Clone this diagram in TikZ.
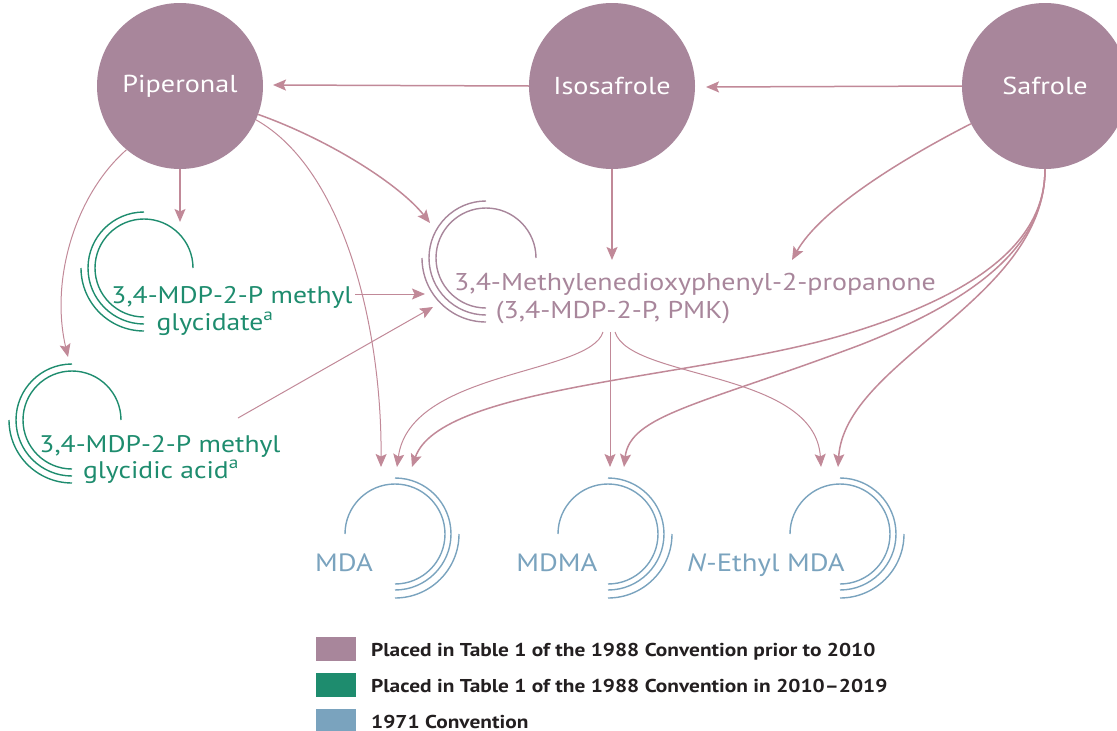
\documentclass[tikz,border=0pt]{standalone}
\usepackage{fontspec}
\setmainfont{PT Sans}[FakeStretch=1.15]
\usetikzlibrary{arrows.meta}
\definecolor{circ}{RGB}{168,134,155}
\definecolor{arr}{RGB}{193,137,152}
\definecolor{grn}{RGB}{30,140,110}
\definecolor{blu}{RGB}{122,163,190}
\definecolor{txt}{RGB}{35,31,32}
\begin{document}
\begin{tikzpicture}[x=1pt,y=-1pt,
  src/.style={circle,fill=circ,minimum size=166pt,inner sep=0pt,text=white,font=\fontsize{24.5}{28}\selectfont},
  conn/.style={draw=arr,line width=1.5pt,-{Stealth[length=13pt,width=11pt,inset=2.5pt]}},
  thinconn/.style={conn,line width=1pt},
  lbl/.style={inner sep=0pt,anchor=base,font=\fontsize{24}{28}\selectfont},
  gtext/.style={lbl,text=grn},
  ptext/.style={lbl,text=circ,font=\fontsize{24.3}{28}\selectfont},
  btext/.style={lbl,text=blu,font=\fontsize{25}{28}\selectfont},
  legbox/.style={fill=#1,draw=none},
  legtext/.style={inner sep=0pt,anchor=base west,text=txt,font=\fontsize{18.6}{22}\selectfont\bfseries},
  gsym/.pic={\draw[grn,line width=1.4pt] (49pt,0pt) arc[start angle=0,end angle=270,radius=49pt];
             \draw[grn,line width=1.4pt] (0pt,56pt) arc[start angle=90,end angle=270,radius=56pt];
             \draw[grn,line width=1.4pt] (-63pt,0pt) arc[start angle=180,end angle=270,radius=63pt];},
  psym/.pic={\draw[circ,line width=1.4pt] (50pt,0pt) arc[start angle=0,end angle=270,radius=50pt];
             \draw[circ,line width=1.4pt] (0pt,57pt) arc[start angle=90,end angle=270,radius=57pt];
             \draw[circ,line width=1.4pt] (-64pt,0pt) arc[start angle=180,end angle=270,radius=64pt];},
  bsym/.pic={\draw[blu,line width=1.4pt] (-50pt,0pt) arc[start angle=180,end angle=-90,radius=50pt];
             \draw[blu,line width=1.4pt] (0pt,56pt) arc[start angle=90,end angle=-90,radius=56pt];
             \draw[blu,line width=1.4pt] (64pt,0pt) arc[start angle=0,end angle=-90,radius=64pt];}
]
\useasboundingbox (0,0) rectangle (1117,731);

% source circles
\node[src] (pip) at (180,86) {Piperonal};
\node[src] (iso) at (612,86) {Isosafrole};
\node[src] (saf) at (1045,86) {Safrole};

% symbols
\pic (gsymA) at (144,268) {gsym};
\pic (gsymB) at (72,420) {gsym};
\pic (psymA) at (486,258) {psym};
\pic (bsymA) at (395,534) {bsym};
\pic (bsymB) at (608,534) {bsym};
\pic (bsymC) at (840,534) {bsym};

% labels
\node[gtext] (gly1) at (232,303) {3,4-MDP-2-P methyl};
\node[gtext] (gly2) at (215,330) {glycidate\textsuperscript{a}};
\node[gtext] (gla1) at (160,452) {3,4-MDP-2-P methyl};
\node[gtext] (gla2) at (161,478) {glycidic acid\textsuperscript{a}};
\node[ptext] (pmk1) at (695,290) {3,4-Methylenedioxyphenyl-2-propanone};
\node[ptext] (pmk2) at (613,318) {(3,4-MDP-2-P, PMK)};
\node[btext] (mda) at (344,571) {MDA};
\node[btext] (mdma) at (557,571) {MDMA};
\node[btext] (nemda) at (766,571) {\textit{N}-Ethyl MDA};

% target coordinates
\coordinate (tPipL) at (273,85);
\coordinate (tIsoR) at (706,87);
\coordinate (tGly) at (180,222);
\coordinate (tGla) at (68,357);
\coordinate (tPmkA) at (430,223);
\coordinate (tPmkB) at (425,294);
\coordinate (tPmkC) at (433,307);
\coordinate (tPmkD) at (612,260);
\coordinate (tPmkE) at (792,260);
\coordinate (tMda1) at (381,467);
\coordinate (tMda2) at (397,467);
\coordinate (tMda3) at (412,467);
\coordinate (tMdma1) at (610,467);
\coordinate (tMdma2) at (624,467);
\coordinate (tNe1) at (821,467);
\coordinate (tNe2) at (838,467);
\coordinate (sGla) at (238,418);
\coordinate (sGly) at (355,294);
\coordinate (sPmkL) at (603,332);
\coordinate (sPmkM) at (610,332);
\coordinate (sPmkR) at (615,332);
\coordinate (jMda) at (850,333);
\coordinate (jMdma) at (860,345);

% connectors
\draw[conn] (iso.west) -- (tPipL);
\draw[conn] (saf.west) -- (tIsoR);
\draw[conn] (pip.south) -- (tGly);
\draw[thinconn] (pip.-130) .. controls (75,195) and (50,280) .. (tGla);
\draw[conn] (pip.-20) .. controls (330,140) and (400,185) .. (tPmkA);
\draw[thinconn] (pip.-24) .. controls (345,170) and (382,330) .. (tMda1);
\draw[thinconn] (sGly) -- (tPmkB);
\draw[thinconn] (sGla) -- (tPmkC);
\draw[conn] (iso.south) -- (tPmkD);
\draw[conn] (saf.-153) .. controls (900,160) and (820,210) .. (tPmkE);
\draw[conn] (saf.south) .. controls (1045,235) and (990,290) .. (jMda)
   .. controls (700,379) and (440,385) .. (tMda3);
\draw[conn] (saf.south) .. controls (1045,235) and (995,292) .. (jMdma)
   .. controls (700,405) and (630,415) .. (tMdma2);
\draw[conn] (saf.south) .. controls (1045,300) and (845,360) .. (tNe2);
\draw[thinconn] (sPmkL) .. controls (590,375) and (410,370) .. (tMda2);
\draw[thinconn] (sPmkM) -- (tMdma1);
\draw[thinconn] (sPmkR) .. controls (630,380) and (815,370) .. (tNe1);

% legend
\node[legbox=circ,minimum width=40pt,minimum height=24pt,inner sep=0pt] (lb1) at (336,649) {};
\node[legbox=grn,minimum width=40pt,minimum height=24pt,inner sep=0pt] (lb2) at (336,685) {};
\node[legbox=blu,minimum width=40pt,minimum height=24pt,inner sep=0pt] (lb3) at (336,721) {};
\node[legtext] (lt1) at (371,656) {Placed in Table 1 of the 1988 Convention prior to 2010};
\node[legtext] (lt2) at (371,692) {Placed in Table 1 of the 1988 Convention in 2010–2019};
\node[legtext] (lt3) at (371,728) {1971 Convention};
\end{tikzpicture}
\end{document}
